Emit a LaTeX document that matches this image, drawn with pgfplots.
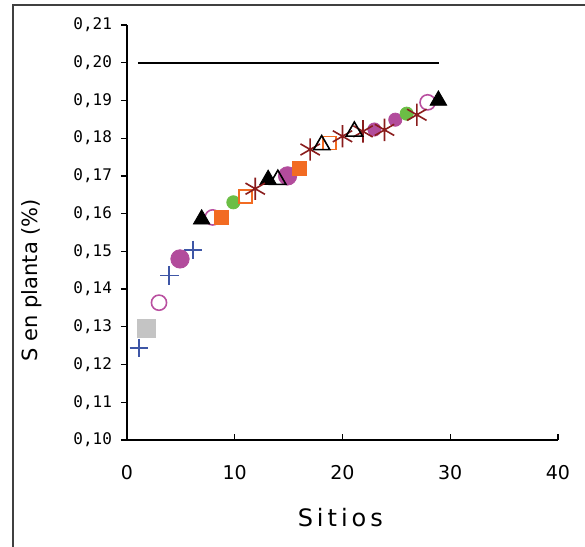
\documentclass[border=0pt]{standalone}
\usepackage{fontspec}
\setmainfont{DejaVu Sans}
\newfontfamily\tickfont{DejaVu Sans Mono}
\usepackage{pgfplots}
\pgfplotsset{compat=1.18}
\definecolor{cblue}{HTML}{3E56A6}
\definecolor{cgrey}{HTML}{C4C4C4}
\definecolor{cpink}{HTML}{B94FA0}
\definecolor{cpurple}{HTML}{B24C9C}
\definecolor{corange}{HTML}{F26B22}
\definecolor{cgreen}{HTML}{6BBE45}
\definecolor{cred}{HTML}{8A1C1C}
\begin{document}
\begin{tikzpicture}
\useasboundingbox (0,0) rectangle (292.5pt,273.5pt);
\draw[line width=1pt, black!75] (6.5pt,0) -- (6.5pt,271pt) -- (292.5pt,271pt);
\begin{axis}[
    at={(63.5pt,53.5pt)}, anchor=south west,
    scale only axis,
    width=215.5pt, height=207.5pt,
    xmin=0, xmax=40, ymin=0.10, ymax=0.21,
    xtick={0,10,20,30,40},
    ytick={0.10,0.11,0.12,0.13,0.14,0.15,0.16,0.17,0.18,0.19,0.20,0.21},
    axis x line*=bottom, axis y line*=left,
    axis line style={line width=0.6pt},
    xtick align=inside, ytick align=outside,
    major tick length=3pt,
    tick style={black, line width=0.6pt},
    /pgf/number format/assume math mode=true,
    xticklabel style={font=\fontsize{9.5}{10}\selectfont, yshift=-9pt},
    yticklabel style={font=\tickfont\fontsize{8}{9}\selectfont, xshift=-1pt,
        /pgf/number format/fixed, /pgf/number format/fixed zerofill,
        /pgf/number format/precision=2, /pgf/number format/use comma},
    scaled y ticks=false,
    xlabel={S\,i\,t\,i\,o\,s},
    xlabel style={font=\fontsize{12}{14}\selectfont,
        at={(axis description cs:0.495,-0.186)}, anchor=center},
    ylabel={S en planta (\%)},
    ylabel style={font=\fontsize{10.5}{13}\selectfont,
        at={(axis description cs:-0.22,0.385)}, anchor=center, rotate=0},
    clip=false,
]
\addplot[black, line width=1pt] coordinates {(1,0.20) (29,0.20)};
% cruces azules
\addplot[only marks, mark=+, mark size=4.6pt, draw=cblue, line width=0.9pt] coordinates {
    (1.1,0.1244) (3.93,0.1436) (6.1,0.1504)};
% cuadrado gris
\addplot[only marks, mark=square*, mark size=4.5pt, draw=cgrey, fill=cgrey] coordinates {
    (1.83,0.1296)};
% circulos abiertos
\addplot[only marks, mark=o, mark size=3.8pt, cpink, line width=0.8pt] coordinates {
    (2.97,0.1364) (7.95,0.1590) (27.9,0.1895)};
% circulos morados grandes
\addplot[only marks, mark=*, mark size=4.6pt, draw=cpurple, fill=cpurple] coordinates {
    (4.92,0.1480) (14.9,0.1700)};
% circulos morados chicos
\addplot[only marks, mark=*, mark size=3.3pt, draw=cpurple, fill=cpurple] coordinates {
    (22.96,0.1823) (24.9,0.1849)};
% triangulos negros
\addplot[only marks, mark=triangle*, mark size=4.8pt, black] coordinates {
    (6.93,0.1585) (13.1,0.1690) (28.9,0.1900)};
% cuadrados naranjas
\addplot[only marks, mark=square*, mark size=3.4pt, draw=corange, fill=corange] coordinates {
    (8.78,0.1590) (16.0,0.1720)};
% circulos verdes
\addplot[only marks, mark=*, mark size=3.3pt, draw=cgreen, fill=cgreen] coordinates {
    (9.87,0.1630) (25.96,0.1865)};
% cuadrados naranjas abiertos
\addplot[only marks, mark=square, mark size=3.3pt, corange, line width=0.8pt] coordinates {
    (11.0,0.1645) (18.8,0.1787)};
% asteriscos
\addplot[only marks, mark=asterisk, mark size=5.6pt, cred, line width=0.8pt] coordinates {
    (11.9,0.1666) (17.0,0.1770) (20.0,0.1805) (21.9,0.1818) (23.9,0.1822) (26.9,0.1862)};
% triangulos abiertos
\addplot[only marks, mark=triangle, mark size=4.7pt, black, line width=0.8pt] coordinates {
    (14.0,0.1690) (18.07,0.1782) (21.1,0.1818)};
\end{axis}
\end{tikzpicture}
\end{document}
